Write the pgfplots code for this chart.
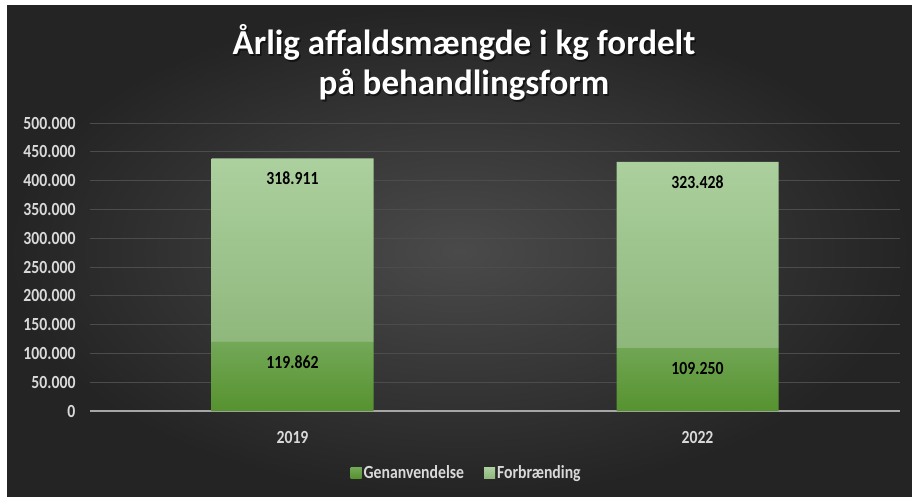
\documentclass[border=0pt]{standalone}
\usepackage{fontspec}
\setmainfont{Carlito}
\newfontfamily\condfont[FakeStretch=0.85]{Carlito}
\usepackage{pgfplots}
\usepackage{pgfplotstable}
\pgfplotsset{compat=1.18}

\definecolor{bgin}{HTML}{4A4A4A}
\definecolor{bgout}{HTML}{242424}
\definecolor{gridc}{HTML}{4C4C4C}
\definecolor{axln}{HTML}{A6A6A6}
\definecolor{tickc}{HTML}{D9D9D9}
\definecolor{genTop}{HTML}{73A857}
\definecolor{genBot}{HTML}{56922F}
\definecolor{forTop}{HTML}{ACD09E}
\definecolor{forBot}{HTML}{8EB77B}
\definecolor{genLeg}{HTML}{5B9B34}
\definecolor{forLeg}{HTML}{A6CF94}

% shift = how far the label sits above the segment middle (px)
\pgfplotstableread{
x y label shift
0 119862 119.862 14.5
1 109250 109.250 11.5
}\genanv
\pgfplotstableread{
x y label shift
0 318911 318.911 71.9
1 323428 323.428 73.2
}\forbr

\newcommand{\smallf}{\condfont\fontsize{18.5}{21}\selectfont\bfseries}

\begin{document}
\begin{tikzpicture}[x=1pt,y=1pt]
\fill[white] (0,0) rectangle (912,496);
\shade[inner color=bgin, outer color=bgout] (7,0) rectangle (912,490);

% title with a soft shadow
\node[anchor=base, font=\fontsize{35}{40}\selectfont\bfseries, text=black, opacity=0.55] at (465.5,439.5) {Årlig affaldsmængde i kg fordelt};
\node[anchor=base, font=\fontsize{35}{40}\selectfont\bfseries, text=white] at (464,441) {Årlig affaldsmængde i kg fordelt};
\node[anchor=base, font=\fontsize{35}{40}\selectfont\bfseries, text=black, opacity=0.55] at (465.5,399.5) {på behandlingsform};
\node[anchor=base, font=\fontsize{35}{40}\selectfont\bfseries, text=white] at (464,401) {på behandlingsform};

\begin{axis}[
  at={(90pt,85pt)}, anchor=south west,
  scale only axis, width=810pt, height=288pt,
  ybar stacked, bar width=0.4,
  xmin=-0.5, xmax=1.5, ymin=0, ymax=500000,
  xtick={0,1}, xticklabels={2019,2022},
  ytick={0,50000,100000,150000,200000,250000,300000,350000,400000,450000,500000},
  yticklabels={0,50.000,100.000,150.000,200.000,250.000,300.000,350.000,400.000,450.000,500.000},
  scaled y ticks=false,
  yticklabel style={xshift=-11pt},
  xticklabel style={yshift=-17pt},
  axis x line*=bottom, axis y line*=left,
  y axis line style={draw=none},
  x axis line style={draw=axln, line width=1.5pt, -},
  major tick length=0pt,
  ymajorgrids, grid style={draw=gridc, line width=1pt},
  tick label style={font=\smallf, text=tickc},
  nodes near coords={\pgfplotspointmeta}, point meta=explicit symbolic,
  visualization depends on={\thisrow{shift} \as \labshift},
  every node near coord/.append style={anchor=center, yshift=\labshift pt,
    font=\smallf, text=black},
  legend style={at={(axis description cs:0.465,-0.215)}, anchor=center,
    draw=none, fill=none, legend columns=2,
    font=\smallf, text=tickc,
    /tikz/every even column/.append style={column sep=18pt}},
]
\addplot[draw=none, top color=genTop, bottom color=genBot,
  legend image code/.code={\fill[genLeg] (0pt,-5.5pt) rectangle (11pt,5.5pt);}]
  table[x=x, y=y, meta=label] {\genanv};
\addplot[draw=none, top color=forTop, bottom color=forBot,
  legend image code/.code={\fill[forLeg] (0pt,-5.5pt) rectangle (11pt,5.5pt);}]
  table[x=x, y=y, meta=label] {\forbr};
\legend{Genanvendelse, Forbrænding}
\end{axis}
\end{tikzpicture}
\end{document}
